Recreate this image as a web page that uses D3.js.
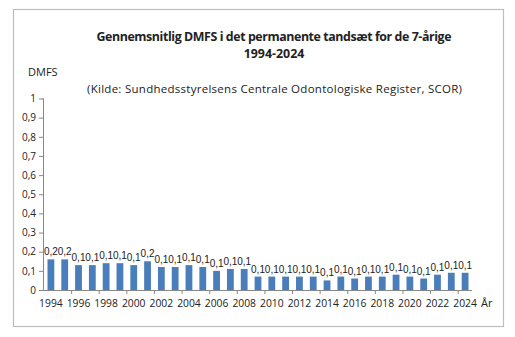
<!DOCTYPE html>
<html><head><meta charset="utf-8">
<script src="https://cdn.jsdelivr.net/npm/d3@7"></script>
<style>body{margin:0;background:#fff}svg{display:block}text{font-family:"Open Sans","Liberation Sans",sans-serif;fill:#222}</style>
</head><body><svg id="c" width="515" height="337"></svg>
<script>
const years = d3.range(1994, 2025).map(String);
const values = [0.16,0.16,0.13,0.13,0.14,0.14,0.13,0.15,0.12,0.12,0.13,0.12,0.10,0.11,0.11,0.07,0.07,0.07,0.07,0.07,0.05,0.07,0.06,0.07,0.07,0.08,0.07,0.06,0.08,0.09,0.09];
const yTicks = [0,0.1,0.2,0.3,0.4,0.5,0.6,0.7,0.8,0.9,1];
const title1 = "Gennemsnitlig DMFS i det permanente tandsæt for de 7-årige";
const title2 = "1994-2024";
const subtitle = "(Kilde: Sundhedsstyrelsens Centrale Odontologiske Register, SCOR)";
const yTitle = "DMFS";
const xTitle = "År";

const svg = d3.select("#c");
const fmt = v => (Math.round(v*10 + 1e-9)/10).toFixed(1).replace(".", ",");
svg.append("rect").attr("x",13.5).attr("y",9.5).attr("width",490).attr("height",317).attr("fill","#fff").attr("stroke","#bdbdbd").attr("stroke-width",1.2);

const x = d3.scaleBand().domain(years).range([44, 472]).paddingInner(0.5).paddingOuter(0.25);
const y = d3.scaleLinear().domain([0,1]).range([290, 98.5]);

svg.append("text").attr("x",274).attr("y",41).attr("text-anchor","middle").attr("font-weight","bold").attr("font-size",12.4).attr("textLength",355).text(title1);
svg.append("text").attr("x",274).attr("y",58).attr("text-anchor","middle").attr("font-weight","bold").attr("font-size",12.4).text(title2);
svg.append("text").attr("x",28).attr("y",76).attr("font-size",11).text(yTitle);
svg.append("text").attr("x",87).attr("y",93).attr("font-size",11.5).attr("textLength",375).text(subtitle);

// y axis
const ya = svg.append("g").attr("transform","translate(43,0)")
  .call(d3.axisLeft(y).tickValues(yTicks).tickSize(4).tickFormat(d => d===0||d===1 ? String(d) : fmt(d)));
ya.select(".domain").attr("stroke","#888").attr("d","M-0.5,98.5H0.5V290.5");
ya.selectAll(".tick line").attr("stroke","#888");
ya.selectAll(".tick text").attr("font-size",10).attr("x",-7).attr("fill","#333").style("font-family","'Open Sans',sans-serif");

// bars
const bw = 6.8;
svg.append("g").selectAll("rect").data(values).join("rect")
  .attr("x",(d,i)=>x(years[i])+x.bandwidth()/2-bw/2)
  .attr("y",d=>y(d)).attr("width",bw).attr("height",d=>y(0)-y(d))
  .attr("fill","#4a7ebb");

// labels
svg.append("g").selectAll("text").data(values).join("text")
  .attr("x",(d,i)=>x(years[i])+x.bandwidth()/2)
  .attr("y",d=>y(d)-4).attr("text-anchor","middle").attr("font-size",10)
  .style("font-family","'Liberation Sans',sans-serif").text(d=>fmt(d));

// x axis
const step = x.step();
svg.append("line").attr("x1",43).attr("x2",472).attr("y1",290.5).attr("y2",290.5).attr("stroke","#888");
const xa = svg.append("g");
years.forEach((yr,i)=>{
  if(i%2===0){
    const cx = x(yr)+x.bandwidth()/2;
    xa.append("text").attr("x",cx).attr("y",307).attr("text-anchor","middle").attr("font-size",10.3).attr("fill","#333").text(yr);
  }
});
for(let i=2;i<years.length;i+=2){
  const bx = x(years[i]) - (step - x.bandwidth())/2;
  xa.append("line").attr("x1",bx).attr("x2",bx).attr("y1",290).attr("y2",294).attr("stroke","#888");
}
svg.append("text").attr("x",481).attr("y",307).attr("font-size",11).text(xTitle);
</script></body></html>
